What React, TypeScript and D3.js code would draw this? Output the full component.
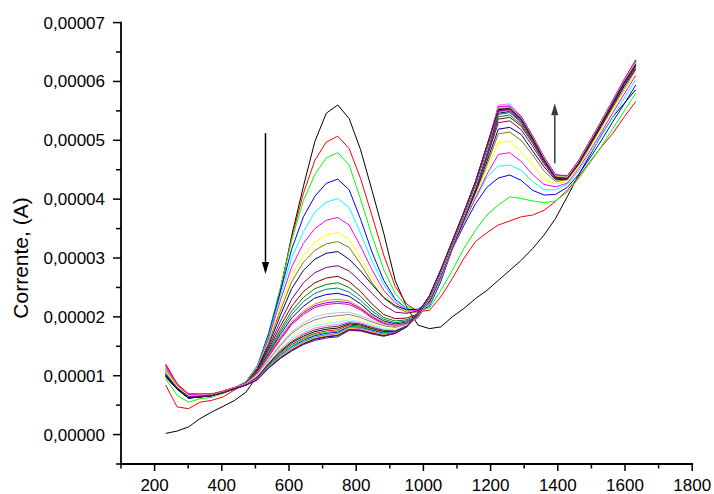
import React from 'react';
import * as d3 from 'd3';

const W = 714;
const H = 494;
const UNIT = 1e-5; // series values are stored in units of 1e-5 A

// common abscissa of every scan
const xValues = [
  233, 267, 301, 335, 369, 404, 438, 472, 506, 540, 574, 608, 643, 677, 711, 745, 779, 813, 847, 882, 916,
  950, 984, 1018, 1052, 1086, 1120, 1155, 1189, 1223, 1257, 1291, 1325, 1359, 1393, 1428, 1462, 1496, 1530,
  1564, 1598, 1632,
];

const seriesColors = [
  '#000000', '#FF0000', '#00FF00', '#0000FF', '#00FFFF', '#FF00FF', '#FFFF00', '#808000', '#000080',
  '#800080', '#800000', '#008000', '#008080', '#0000A0', '#FF8000', '#8000FF', '#FF0080', '#C0C0C0',
  '#808080', '#FFFF80', '#80FFFF', '#FF80FF', '#404040', '#000000', '#FF0000', '#00FF00', '#0000FF',
  '#00FFFF', '#FF00FF', '#FFFF00', '#808000', '#000080', '#800080',
];

const series: number[][] = [
  [0.02, 0.06, 0.13, 0.27, 0.38, 0.48, 0.58, 0.72, 1.0, 1.66, 2.42, 3.38, 4.22, 4.98, 5.46, 5.6, 5.37, 4.84, 4.15, 3.42, 2.62, 2.17, 1.86, 1.8, 1.83, 2.0, 2.14, 2.31, 2.45, 2.62, 2.79, 2.96, 3.16, 3.39, 3.67, 4.04, 4.41, 4.75, 5.09, 5.4, 5.63, 5.86],
  [0.84, 0.47, 0.44, 0.55, 0.58, 0.64, 0.76, 0.88, 1.12, 1.72, 2.47, 3.35, 4.1, 4.66, 4.97, 5.07, 4.86, 4.35, 3.72, 3.05, 2.52, 2.22, 2.09, 2.11, 2.34, 2.65, 2.99, 3.28, 3.43, 3.56, 3.63, 3.7, 3.73, 3.81, 3.96, 4.15, 4.38, 4.64, 4.89, 5.12, 5.4, 5.66],
  [0.95, 0.67, 0.55, 0.61, 0.63, 0.7, 0.78, 0.9, 1.16, 1.74, 2.48, 3.3, 3.98, 4.42, 4.7, 4.79, 4.58, 4.0, 3.38, 2.8, 2.4, 2.18, 2.1, 2.15, 2.45, 2.79, 3.16, 3.47, 3.73, 3.9, 4.04, 4.01, 3.97, 3.94, 3.97, 4.12, 4.35, 4.62, 4.9, 5.2, 5.5, 5.8],
  [1.0, 0.78, 0.62, 0.64, 0.66, 0.72, 0.79, 0.9, 1.17, 1.72, 2.42, 3.15, 3.7, 4.05, 4.27, 4.34, 4.16, 3.66, 3.1, 2.62, 2.3, 2.14, 2.1, 2.18, 2.6, 3.15, 3.55, 3.92, 4.2, 4.36, 4.41, 4.32, 4.15, 4.07, 4.08, 4.2, 4.42, 4.7, 5.0, 5.32, 5.62, 5.94],
  [1.05, 0.8, 0.64, 0.66, 0.67, 0.73, 0.8, 0.9, 1.16, 1.68, 2.35, 3.0, 3.45, 3.78, 3.95, 4.01, 3.86, 3.42, 2.95, 2.55, 2.28, 2.14, 2.1, 2.2, 2.64, 3.18, 3.6, 4.0, 4.38, 4.56, 4.58, 4.49, 4.3, 4.16, 4.16, 4.25, 4.48, 4.77, 5.08, 5.4, 5.72, 6.03],
  [1.12, 0.84, 0.67, 0.68, 0.68, 0.74, 0.8, 0.89, 1.15, 1.64, 2.27, 2.85, 3.25, 3.5, 3.64, 3.69, 3.56, 3.2, 2.8, 2.45, 2.24, 2.12, 2.1, 2.22, 2.66, 3.15, 3.6, 4.02, 4.42, 4.76, 4.79, 4.64, 4.42, 4.25, 4.21, 4.27, 4.52, 4.82, 5.14, 5.47, 5.79, 6.1],
  [1.08, 0.82, 0.66, 0.67, 0.68, 0.74, 0.8, 0.89, 1.14, 1.6, 2.17, 2.7, 3.05, 3.27, 3.39, 3.43, 3.32, 3.0, 2.66, 2.38, 2.2, 2.1, 2.09, 2.23, 2.68, 3.16, 3.62, 4.06, 4.52, 4.96, 4.99, 4.8, 4.58, 4.33, 4.26, 4.3, 4.55, 4.86, 5.19, 5.52, 5.84, 6.15],
  [1.06, 0.81, 0.66, 0.67, 0.67, 0.73, 0.8, 0.88, 1.13, 1.57, 2.1, 2.6, 2.93, 3.13, 3.24, 3.28, 3.18, 2.9, 2.58, 2.32, 2.17, 2.08, 2.08, 2.24, 2.69, 3.17, 3.63, 4.1, 4.58, 5.11, 5.14, 5.0, 4.75, 4.48, 4.3, 4.33, 4.58, 4.9, 5.23, 5.56, 5.88, 6.2],
  [1.0, 0.78, 0.62, 0.64, 0.66, 0.72, 0.79, 0.88, 1.12, 1.53, 2.02, 2.48, 2.79, 2.98, 3.08, 3.11, 2.98, 2.78, 2.55, 2.33, 2.19, 2.12, 2.13, 2.25, 2.7, 3.17, 3.64, 4.12, 4.64, 5.19, 5.22, 5.1, 4.82, 4.55, 4.33, 4.34, 4.6, 4.92, 5.25, 5.59, 5.92, 6.22],
  [1.05, 0.8, 0.64, 0.66, 0.67, 0.73, 0.79, 0.88, 1.11, 1.49, 1.92, 2.3, 2.58, 2.75, 2.84, 2.87, 2.78, 2.6, 2.4, 2.2, 2.08, 2.06, 2.1, 2.26, 2.7, 3.18, 3.65, 4.15, 4.7, 5.3, 5.33, 5.18, 4.9, 4.6, 4.35, 4.35, 4.6, 4.94, 5.27, 5.61, 5.95, 6.25],
  [1.04, 0.8, 0.65, 0.67, 0.67, 0.73, 0.79, 0.87, 1.1, 1.46, 1.84, 2.18, 2.43, 2.58, 2.66, 2.69, 2.6, 2.43, 2.22, 2.04, 1.97, 1.98, 2.05, 2.26, 2.7, 3.18, 3.66, 4.17, 4.74, 5.36, 5.39, 5.24, 4.95, 4.63, 4.37, 4.36, 4.6, 4.94, 5.27, 5.62, 5.96, 6.27],
  [1.06, 0.81, 0.66, 0.67, 0.68, 0.73, 0.8, 0.87, 1.09, 1.43, 1.78, 2.1, 2.33, 2.48, 2.55, 2.58, 2.5, 2.35, 2.15, 1.99, 1.93, 1.95, 2.03, 2.27, 2.71, 3.19, 3.67, 4.18, 4.76, 5.4, 5.43, 5.27, 4.98, 4.65, 4.38, 4.36, 4.61, 4.95, 5.28, 5.63, 5.97, 6.28],
  [1.03, 0.8, 0.65, 0.66, 0.67, 0.73, 0.79, 0.87, 1.08, 1.4, 1.74, 2.04, 2.26, 2.4, 2.47, 2.49, 2.42, 2.28, 2.1, 1.96, 1.9, 1.93, 2.02, 2.27, 2.71, 3.19, 3.68, 4.19, 4.78, 5.44, 5.47, 5.3, 5.0, 4.66, 4.38, 4.37, 4.62, 4.95, 5.29, 5.64, 5.98, 6.29],
  [1.0, 0.78, 0.63, 0.65, 0.66, 0.72, 0.79, 0.87, 1.07, 1.38, 1.7, 1.98, 2.18, 2.32, 2.38, 2.4, 2.35, 2.22, 2.05, 1.93, 1.88, 1.91, 2.0, 2.28, 2.72, 3.2, 3.68, 4.2, 4.79, 5.46, 5.49, 5.32, 5.01, 4.67, 4.39, 4.37, 4.62, 4.96, 5.29, 5.65, 5.99, 6.3],
  [1.1, 0.83, 0.67, 0.68, 0.68, 0.74, 0.8, 0.87, 1.06, 1.36, 1.66, 1.92, 2.1, 2.22, 2.28, 2.3, 2.27, 2.16, 2.02, 1.91, 1.86, 1.9, 1.99, 2.28, 2.72, 3.2, 3.69, 4.21, 4.8, 5.48, 5.51, 5.33, 5.02, 4.68, 4.39, 4.37, 4.63, 4.96, 5.3, 5.65, 6.0, 6.31],
  [1.08, 0.82, 0.66, 0.67, 0.68, 0.73, 0.79, 0.86, 1.05, 1.34, 1.63, 1.89, 2.07, 2.19, 2.24, 2.26, 2.24, 2.14, 2.0, 1.89, 1.85, 1.89, 1.99, 2.29, 2.72, 3.21, 3.69, 4.21, 4.81, 5.5, 5.52, 5.34, 5.03, 4.68, 4.4, 4.38, 4.63, 4.97, 5.3, 5.66, 6.0, 6.32],
  [1.2, 0.86, 0.69, 0.69, 0.69, 0.74, 0.8, 0.86, 1.05, 1.33, 1.61, 1.87, 2.04, 2.16, 2.21, 2.23, 2.21, 2.12, 1.98, 1.88, 1.84, 1.88, 1.99, 2.29, 2.73, 3.21, 3.7, 4.22, 4.82, 5.52, 5.55, 5.36, 5.04, 4.69, 4.4, 4.38, 4.64, 4.97, 5.31, 5.66, 6.01, 6.33],
  [1.06, 0.81, 0.66, 0.67, 0.67, 0.73, 0.79, 0.86, 1.03, 1.29, 1.53, 1.75, 1.9, 2.0, 2.05, 2.07, 2.08, 2.02, 1.94, 1.87, 1.84, 1.87, 2.0, 2.3, 2.73, 3.22, 3.7, 4.22, 4.83, 5.54, 5.57, 5.37, 5.05, 4.7, 4.4, 4.38, 4.64, 4.98, 5.31, 5.67, 6.02, 6.34],
  [1.04, 0.8, 0.65, 0.66, 0.67, 0.72, 0.79, 0.86, 1.02, 1.27, 1.51, 1.72, 1.86, 1.95, 2.0, 2.02, 2.04, 1.99, 1.91, 1.85, 1.82, 1.86, 2.0, 2.3, 2.74, 3.22, 3.71, 4.23, 4.83, 5.55, 5.57, 5.38, 5.05, 4.7, 4.41, 4.38, 4.64, 4.98, 5.32, 5.67, 6.02, 6.34],
  [1.07, 0.81, 0.66, 0.67, 0.67, 0.73, 0.79, 0.86, 1.01, 1.25, 1.48, 1.68, 1.81, 1.9, 1.94, 1.96, 1.99, 1.95, 1.88, 1.82, 1.8, 1.85, 2.01, 2.31, 2.74, 3.23, 3.71, 4.23, 4.84, 5.57, 5.59, 5.39, 5.06, 4.71, 4.41, 4.39, 4.65, 4.99, 5.32, 5.68, 6.03, 6.35],
  [1.05, 0.8, 0.65, 0.66, 0.67, 0.72, 0.79, 0.86, 1.0, 1.24, 1.46, 1.64, 1.77, 1.85, 1.89, 1.91, 1.95, 1.92, 1.86, 1.8, 1.78, 1.85, 2.01, 2.31, 2.75, 3.23, 3.72, 4.24, 4.85, 5.59, 5.61, 5.4, 5.07, 4.72, 4.42, 4.39, 4.65, 4.99, 5.33, 5.68, 6.03, 6.36],
  [1.15, 0.85, 0.68, 0.68, 0.68, 0.73, 0.79, 0.86, 0.99, 1.22, 1.44, 1.61, 1.73, 1.81, 1.85, 1.87, 1.92, 1.9, 1.84, 1.78, 1.77, 1.84, 2.02, 2.32, 2.75, 3.24, 3.72, 4.25, 4.86, 5.6, 5.62, 5.41, 5.08, 4.72, 4.42, 4.4, 4.66, 5.0, 5.33, 5.69, 6.04, 6.37],
  [1.02, 0.79, 0.64, 0.66, 0.66, 0.72, 0.78, 0.85, 0.98, 1.21, 1.42, 1.58, 1.7, 1.78, 1.82, 1.84, 1.9, 1.88, 1.82, 1.77, 1.76, 1.84, 2.02, 2.32, 2.76, 3.24, 3.73, 4.25, 4.86, 5.57, 5.58, 5.4, 5.07, 4.71, 4.41, 4.39, 4.65, 4.99, 5.33, 5.68, 6.03, 6.35],
  [0.98, 0.77, 0.62, 0.64, 0.66, 0.72, 0.78, 0.85, 0.97, 1.2, 1.4, 1.56, 1.67, 1.75, 1.79, 1.81, 1.88, 1.86, 1.8, 1.75, 1.75, 1.84, 2.03, 2.33, 2.76, 3.25, 3.73, 4.26, 4.87, 5.56, 5.57, 5.4, 5.07, 4.71, 4.41, 4.39, 4.65, 4.99, 5.33, 5.68, 6.03, 6.36],
  [1.18, 0.86, 0.69, 0.69, 0.69, 0.73, 0.79, 0.85, 0.97, 1.19, 1.38, 1.53, 1.64, 1.72, 1.76, 1.78, 1.86, 1.84, 1.79, 1.74, 1.74, 1.83, 2.03, 2.33, 2.77, 3.25, 3.74, 4.26, 4.87, 5.56, 5.56, 5.39, 5.06, 4.7, 4.4, 4.38, 4.64, 4.98, 5.32, 5.67, 6.02, 6.34],
  [1.1, 0.83, 0.67, 0.68, 0.68, 0.73, 0.79, 0.85, 0.96, 1.18, 1.37, 1.51, 1.62, 1.7, 1.74, 1.76, 1.84, 1.83, 1.78, 1.73, 1.74, 1.83, 2.04, 2.34, 2.77, 3.26, 3.74, 4.27, 4.88, 5.55, 5.56, 5.39, 5.06, 4.7, 4.4, 4.38, 4.64, 4.98, 5.32, 5.67, 6.02, 6.33],
  [1.0, 0.78, 0.63, 0.65, 0.66, 0.72, 0.78, 0.85, 0.96, 1.17, 1.35, 1.49, 1.6, 1.68, 1.72, 1.74, 1.83, 1.82, 1.77, 1.72, 1.73, 1.83, 2.04, 2.34, 2.78, 3.26, 3.75, 4.27, 4.88, 5.54, 5.55, 5.38, 5.05, 4.69, 4.39, 4.37, 4.63, 4.97, 5.31, 5.66, 6.01, 6.32],
  [1.06, 0.81, 0.66, 0.67, 0.67, 0.72, 0.78, 0.85, 0.95, 1.16, 1.34, 1.48, 1.58, 1.66, 1.7, 1.72, 1.82, 1.81, 1.76, 1.71, 1.73, 1.83, 2.05, 2.35, 2.78, 3.27, 3.75, 4.28, 4.89, 5.56, 5.57, 5.39, 5.06, 4.7, 4.4, 4.38, 4.64, 4.98, 5.32, 5.67, 6.02, 6.33],
  [1.16, 0.85, 0.68, 0.68, 0.68, 0.73, 0.79, 0.85, 0.95, 1.15, 1.33, 1.46, 1.57, 1.65, 1.69, 1.71, 1.81, 1.8, 1.75, 1.7, 1.73, 1.83, 2.05, 2.35, 2.79, 3.27, 3.76, 4.28, 4.89, 5.57, 5.58, 5.4, 5.07, 4.71, 4.41, 4.39, 4.65, 4.99, 5.33, 5.68, 6.04, 6.36],
  [1.08, 0.82, 0.66, 0.67, 0.67, 0.72, 0.78, 0.84, 0.94, 1.15, 1.32, 1.45, 1.56, 1.64, 1.68, 1.7, 1.8, 1.79, 1.74, 1.69, 1.72, 1.83, 2.06, 2.35, 2.79, 3.28, 3.76, 4.29, 4.9, 5.55, 5.56, 5.38, 5.05, 4.69, 4.39, 4.37, 4.63, 4.97, 5.31, 5.66, 6.01, 6.32],
  [1.04, 0.8, 0.65, 0.66, 0.67, 0.72, 0.78, 0.84, 0.94, 1.14, 1.31, 1.44, 1.55, 1.63, 1.67, 1.69, 1.79, 1.78, 1.73, 1.68, 1.72, 1.83, 2.06, 2.36, 2.8, 3.28, 3.77, 4.29, 4.9, 5.53, 5.55, 5.37, 5.04, 4.68, 4.38, 4.36, 4.62, 4.96, 5.3, 5.65, 6.0, 6.3],
  [0.99, 0.77, 0.62, 0.64, 0.66, 0.71, 0.78, 0.84, 0.93, 1.14, 1.3, 1.43, 1.54, 1.62, 1.66, 1.68, 1.78, 1.77, 1.72, 1.68, 1.72, 1.83, 2.07, 2.36, 2.8, 3.29, 3.77, 4.3, 4.91, 5.52, 5.54, 5.36, 5.03, 4.67, 4.37, 4.35, 4.61, 4.95, 5.29, 5.64, 5.99, 6.29],
  [1.02, 0.79, 0.64, 0.65, 0.66, 0.71, 0.77, 0.84, 0.93, 1.13, 1.29, 1.42, 1.53, 1.6, 1.64, 1.66, 1.77, 1.76, 1.71, 1.67, 1.72, 1.83, 2.07, 2.36, 2.81, 3.29, 3.78, 4.3, 4.91, 5.5, 5.53, 5.35, 5.02, 4.66, 4.36, 4.34, 4.6, 4.94, 5.28, 5.63, 5.98, 6.28],
];

const yTickValues = [0, 1e-5, 2e-5, 3e-5, 4e-5, 5e-5, 6e-5, 7e-5];
const yTickLabels = ['0,00000', '0,00001', '0,00002', '0,00003', '0,00004', '0,00005', '0,00006', '0,00007'];
const yMinorTicks = [-0.5e-5, 0.5e-5, 1.5e-5, 2.5e-5, 3.5e-5, 4.5e-5, 5.5e-5, 6.5e-5];
const xTickValues = [200, 400, 600, 800, 1000, 1200, 1400, 1600, 1800];
const xTickLabels = ['200', '400', '600', '800', '1000', '1200', '1400', '1600', '1800'];
const xMinorTicks = [100, 300, 500, 700, 900, 1100, 1300, 1500, 1700];

// trend arrows: y in units of 1e-5 A
const arrows = [
  { x: 530, from: 5.12, to: 2.73, color: '#000000' },
  { x: 1391, from: 4.61, to: 5.63, color: '#3a3a3a' },
];

const FONT = '"Liberation Sans", Arial, Helvetica, sans-serif';

export default function App() {
  const x = d3.scaleLinear().domain([100, 1800]).range([121, 692.2]);
  const y = d3.scaleLinear().domain([-0.5e-5, 7e-5]).range([464, 22.6]);

  const line = d3
    .line<number>()
    .x((_, i) => x(xValues[i]))
    .y((v) => y(v * UNIT));

  const x0 = x(100);
  const y0 = y(-0.5e-5);

  return (
    <svg
      width={W}
      height={H}
      viewBox={`0 0 ${W} ${H}`}
      style={{ position: 'absolute', left: 0, top: 0, background: '#fff' }}
      fontFamily={FONT}
    >
      <rect width={W} height={H} fill="#fff" />
      <g fill="none" strokeWidth={1} strokeLinejoin="miter">
        {series.map((s, i) => (
          <path key={i} d={line(s) ?? ''} stroke={seriesColors[i]} />
        ))}
      </g>

      {arrows.map((a, i) => {
        const ax = x(a.x);
        const yFrom = y(a.from * UNIT);
        const yTip = y(a.to * UNIT);
        const dir = yTip > yFrom ? 1 : -1;
        const headLen = 12;
        const yBase = yTip - dir * headLen;
        return (
          <g key={i}>
            <line x1={ax} x2={ax} y1={yFrom} y2={yBase} stroke={a.color} strokeWidth={1.5} />
            <path d={`M${ax},${yTip}L${ax - 3.6},${yBase}L${ax + 3.6},${yBase}Z`} fill={a.color} />
          </g>
        );
      })}

      {/* axes */}
      <g stroke="#000" strokeWidth={1.8} strokeLinecap="square">
        <line x1={x0} x2={x0} y1={y(7e-5)} y2={y0} />
        <line x1={x0} x2={x(1800)} y1={y0} y2={y0} />
      </g>
      <g stroke="#000" strokeWidth={1.5}>
        {yTickValues.map((v, i) => (
          <line key={`ym${i}`} x1={x0 - 8} x2={x0} y1={y(v)} y2={y(v)} />
        ))}
        {yMinorTicks.map((v, i) => (
          <line key={`yn${i}`} x1={x0 - 5} x2={x0} y1={y(v)} y2={y(v)} />
        ))}
        {xTickValues.map((v, i) => (
          <line key={`xm${i}`} x1={x(v)} x2={x(v)} y1={y0} y2={y0 + 7} />
        ))}
        {xMinorTicks.map((v, i) => (
          <line key={`xn${i}`} x1={x(v)} x2={x(v)} y1={y0} y2={y0 + 4.5} />
        ))}
      </g>
      <g fontSize={17} fill="#000">
        {yTickValues.map((v, i) => (
          <text key={`yl${i}`} x={105} y={y(v)} dy="0.35em" textAnchor="end">
            {yTickLabels[i]}
          </text>
        ))}
        {xTickValues.map((v, i) => (
          <text key={`xl${i}`} x={x(v)} y={490.5} textAnchor="middle">
            {xTickLabels[i]}
          </text>
        ))}
      </g>
      <text
        transform="translate(28,258) rotate(-90)"
        textAnchor="middle"
        fontSize={21}
        fill="#000"
      >
        Corrente, (A)
      </text>
    </svg>
  );
}
